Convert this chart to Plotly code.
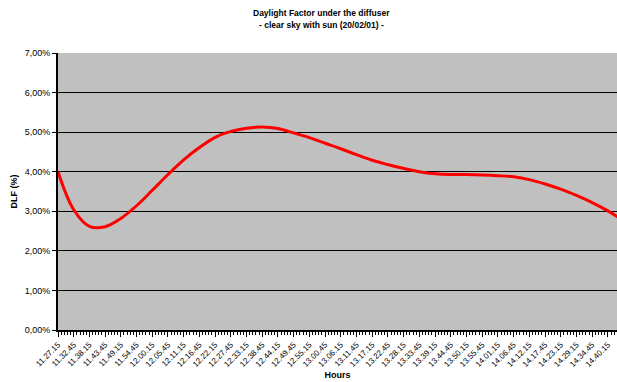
import plotly.graph_objects as go

# Measurement times (category labels on the x axis)
hours = [
    "11.27.15", "11.32.45", "11.38.15", "11.43.45", "11.49.15", "11.54.45",
    "12.00.15", "12.05.45", "12.11.15", "12.16.45", "12.22.15", "12.27.45",
    "12.33.15", "12.38.45", "12.44.15", "12.49.45", "12.55.15", "13.00.45",
    "13.06.15", "13.11.45", "13.17.15", "13.22.45", "13.28.15", "13.33.45",
    "13.39.15", "13.44.45", "13.50.15", "13.55.45", "14.01.15", "14.06.45",
    "14.12.15", "14.17.45", "14.23.15", "14.29.15", "14.34.45", "14.40.15",
    "14.45.45",
]

# Daylight factor (fraction) at each measurement time
dlf = [
    0.0400, 0.0304, 0.0262, 0.0261, 0.0282, 0.0314,
    0.0353, 0.0393, 0.0430, 0.0461, 0.0487, 0.0502,
    0.0510, 0.0513, 0.0509, 0.0498, 0.0486, 0.0472,
    0.0458, 0.0443, 0.0429, 0.0418, 0.0408, 0.0400,
    0.0395, 0.0393, 0.0393, 0.0392, 0.0390, 0.0387,
    0.0380, 0.0369, 0.0356, 0.0340, 0.0322, 0.0301,
    0.0276,
]

title_lines = [
    "Daylight Factor under the diffuser",
    "- clear sky with sun (20/02/01) -",
]

n_labels = 36          # labels shown along the axis
x_end = 35.58          # visible extent of the category axis

pos = list(range(len(hours)))

fig = go.Figure()
fig.add_trace(go.Scatter(
    x=pos, y=dlf, mode="lines",
    line=dict(color="#FF0000", width=3, shape="spline", smoothing=1.0),
    showlegend=False, hoverinfo="skip",
))

font_family = "Liberation Sans, Arial, sans-serif"

# Two-line chart title, placed above the plot area
for line, ypos in zip(title_lines, [1.144, 1.101]):
    fig.add_annotation(
        text=f"<b>{line}</b>", xref="paper", yref="paper",
        x=0.4705, y=ypos, xanchor="center", yanchor="middle",
        showarrow=False, font=dict(family=font_family, size=8.5, color="black"),
    )

fig.update_layout(
    width=617, height=382,
    margin=dict(l=58, r=0, t=53, b=52),
    paper_bgcolor="white",
    plot_bgcolor="#C0C0C0",
    separators=",.",
    font=dict(family=font_family, size=9, color="black"),
    xaxis=dict(
        range=[0, x_end],
        tickmode="array",
        tickvals=pos[:n_labels],
        ticktext=hours[:n_labels],
        tickangle=-45,
        tickfont=dict(size=8),
        ticks="outside", ticklen=5, tickcolor="black", tickwidth=1,
        minor=dict(ticks="outside", ticklen=3, dtick=0.2, tick0=0,
                   tickcolor="black", tickwidth=1, showgrid=False),
        showgrid=False, zeroline=False,
        showline=True, linecolor="black", linewidth=2,
        title=dict(text="<b>Hours</b>", font=dict(size=9), standoff=4),
    ),
    yaxis=dict(
        range=[0, 0.07],
        dtick=0.01,
        tickformat=".2%",
        ticks="outside", ticklen=4, tickcolor="black", tickwidth=1,
        showgrid=True, gridcolor="black", gridwidth=1.3,
        zeroline=False,
        showline=True, linecolor="black", linewidth=2,
        title=dict(text="<b>DLF (%)</b>", font=dict(size=9), standoff=6),
    ),
)

fig.write_html("out.html")
